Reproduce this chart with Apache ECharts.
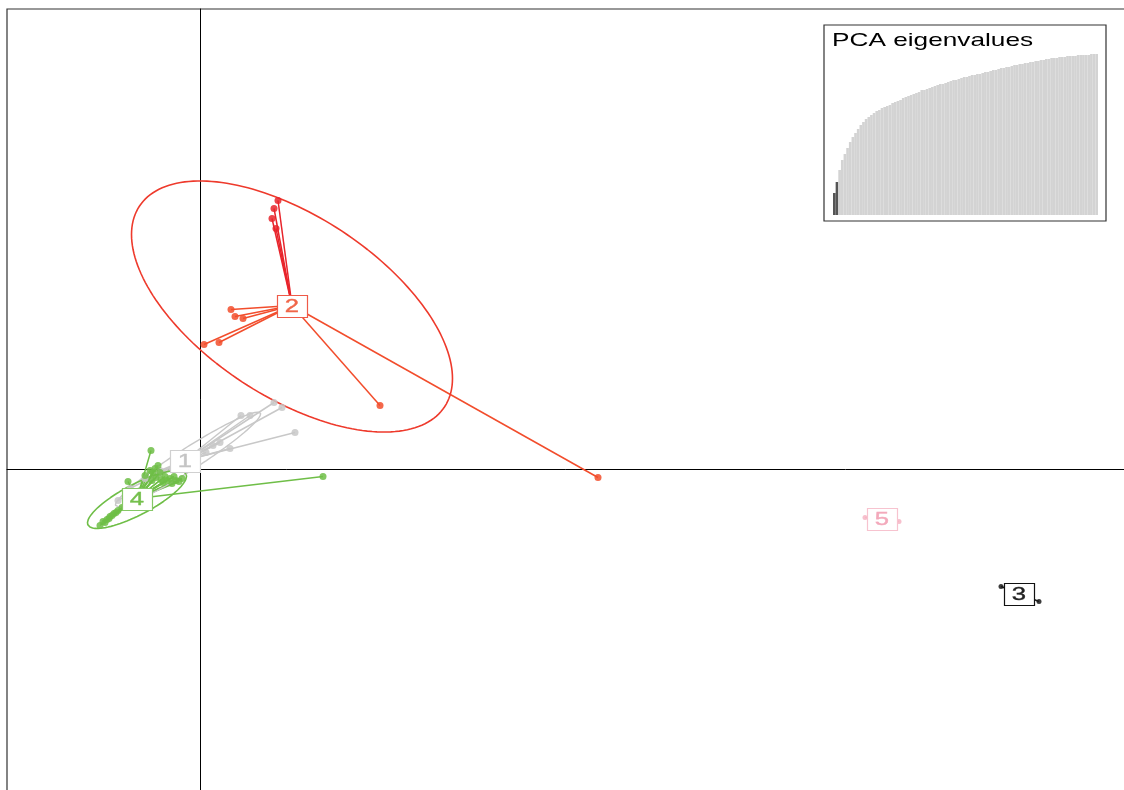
<!DOCTYPE html>
<html>
<head>
<meta charset="utf-8">
<script src="https://cdn.jsdelivr.net/npm/echarts@6/dist/echarts.min.js"></script>
<style>
html,body{margin:0;padding:0;background:#fff;}
#main{width:1124px;height:790px;}
</style>
</head>
<body>
<div id="main"></div>
<script>
// ---------- DATA (PCA / DAPC scatter, axis units) ----------
const grp1Centroid = [-0.15, 0.09];
const grp1Points = [[0.74,0.67],[0.82,0.62],[0.41,0.54],[0.50,0.54],[0.95,0.37],[0.13,0.24],[0.20,0.27],[0.30,0.21],[0.06,0.17],[-0.40,-0.01],[-0.55,-0.09],[-0.70,-0.19],[-0.82,-0.31]];
const grp1Ellipse = [-0.12, 0.10, 0.86, 0.11, 32.7]; // cx, cy, semi-major, semi-minor, angle (deg)

const grp2Centroid = [0.92, 1.64];
const grp2PointsA = [[0.78,2.69],[0.74,2.61],[0.72,2.51],[0.76,2.41]];
const grp2PointsB = [[0.31,1.60],[0.35,1.53],[0.43,1.51],[0.04,1.25],[0.19,1.27],[1.80,0.64],[3.98,-0.08]];
const grp2Ellipse = [0.92, 1.63, 1.826, 0.904, -33.3];

const grp3Centroid = [8.19, -1.24];
const grp3Points = [[8.01,-1.17],[8.39,-1.32]];

const grp4Centroid = [-0.63, -0.29];
const grp4Points = [[-0.49,0.19],[-0.72,-0.12],[1.23,-0.07],[-1.00,-0.56],[-0.97,-0.52],[-0.95,-0.53],[-0.93,-0.50],[-0.91,-0.49],[-0.90,-0.47],[-0.88,-0.46],[-0.86,-0.44],[-0.84,-0.43],[-0.82,-0.41],[-0.78,-0.38],[-0.50,-0.01],[-0.45,0.01],[-0.40,-0.03],[-0.35,-0.07],[-0.30,-0.09],[-0.24,-0.11],[-0.18,-0.09],[-0.42,0.04],[-0.55,-0.06],[-0.28,-0.14],[-0.37,-0.13],[-0.48,-0.11],[-0.33,-0.11],[-0.26,-0.07],[-0.21,-0.12],[-0.44,-0.08],[-0.39,-0.10],[-0.47,-0.03]];
const grp4Ellipse = [-0.63, -0.30, 0.553, 0.153, 27.6];

const grp5Centroid = [6.82, -0.49];
const grp5Points = [[6.65,-0.48],[6.99,-0.52]];

const groupLabels = ['1','2','3','4','5'];

// PCA eigenvalues inset (bar heights, arbitrary units); first two retained axes
const eigenValues = [22,33,45,55,61,67,73,78,82,86,
  90,93,96,98,100,102,104,105,107,108,
  109,110,112,113,114,115,117,118,119,120,
  121,122,123,125,125,126,127,128,129,130,
  131,131,132,133,134,135,135,136,137,138,
  138,139,140,140,141,141,142,143,143,144,
  145,145,146,147,147,148,148,149,150,150,
  151,151,152,152,153,153,154,154,155,155,
  156,156,157,157,157,158,158,158,159,159,
  159,159,160,160,160,160,160,161,161,161];
const eigenRetained = 2;

// ---------- HELPERS ----------
function ellipsePath(e){
  const [cx,cy,a,b,deg] = e, th = deg*Math.PI/180, out=[];
  for(let i=0;i<=180;i++){
    const t = i/180*2*Math.PI;
    const u = a*Math.cos(t), v = b*Math.sin(t);
    out.push([cx + u*Math.cos(th) - v*Math.sin(th), cy + u*Math.sin(th) + v*Math.cos(th)]);
  }
  return out;
}
function segs(c, pts){ return pts.map(p => ({coords:[c, p]})); }

const FONT = '"Liberation Sans", Arial, sans-serif';
const C1 = '#c8c8c8', C2a = '#e8242b', C2b = '#f24d2c', C2e = '#ee3a2c', C3 = '#1a1a1a', C4 = '#6fbe47', C5 = '#f6b5c4';

function segSeries(c, pts, color){
  return {type:'lines', coordinateSystem:'cartesian2d', xAxisIndex:0, yAxisIndex:0, polyline:false,
    data: segs(c, pts), lineStyle:{color:color, width:1.5, opacity:1}, silent:true, z:3};
}
function ptSeries(pts, color, size){
  return {type:'scatter', xAxisIndex:0, yAxisIndex:0, data: pts, symbolSize:size||7,
    itemStyle:{color:color, opacity:0.85}, silent:true, z:4};
}
function ellSeries(e, color, w){
  return {type:'line', xAxisIndex:0, yAxisIndex:0, data: ellipsePath(e), showSymbol:false, smooth:false,
    lineStyle:{color:color, width:w||1.5}, silent:true, z:3};
}

const labelStyles = {
  '1': {stroke:'#d0d0d0', fill:'#c4c4c4'},
  '2': {stroke:'#ef5a48', fill:'#f06548'},
  '3': {stroke:'#111111', fill:'#222222'},
  '4': {stroke:'#86c867', fill:'#74bf4c'},
  '5': {stroke:'#f7c3cf', fill:'#f3a9bb'}
};
const centroids = [grp1Centroid, grp2Centroid, grp3Centroid, grp4Centroid, grp5Centroid];

const chart = echarts.init(document.getElementById('main'), null, {renderer:'canvas'});
const option = {
  animation:false,
  backgroundColor:'#fff',
  grid:[
    {left:7, top:9, width:1200, height:900, show:true, borderColor:'#333', borderWidth:1.2, backgroundColor:'#fff', outerBoundsMode:'none', containLabel:false},
    {left:824, top:25, width:282, height:196, show:true, borderColor:'#333', borderWidth:1.2, backgroundColor:'#fff', z:5, outerBoundsMode:'none', containLabel:false},
    {left:833, top:54, width:265, height:161, z:6, outerBoundsMode:'none', containLabel:false}
  ],
  xAxis:[
    {type:'value', gridIndex:0, min:-1.93, max:10.07, axisLine:{show:true, onZero:true, lineStyle:{color:'#000', width:1}},
     axisTick:{show:false}, axisLabel:{show:false}, splitLine:{show:false}},
    {type:'value', gridIndex:1, show:false},
    {type:'category', gridIndex:2, data: eigenValues.map((v,i)=>String(i+1)), show:false, boundaryGap:true}
  ],
  yAxis:[
    {type:'value', gridIndex:0, min:-4.395, max:4.605, axisLine:{show:true, onZero:true, lineStyle:{color:'#000', width:1}},
     axisTick:{show:false}, axisLabel:{show:false}, splitLine:{show:false}},
    {type:'value', gridIndex:1, show:false},
    {type:'value', gridIndex:2, min:0, max:161, show:false}
  ],
  graphic:[
    {type:'text', left:832, top:31, z:100, scaleX:1.38,
     style:{text:'PCA eigenvalues', font:'19px ' + FONT, fill:'#000'}}
  ],
  series:[
    ellSeries(grp1Ellipse, C1, 1.4),
    segSeries(grp1Centroid, grp1Points, C1),
    ptSeries(grp1Points, C1),
    ellSeries(grp2Ellipse, C2e, 1.6),
    segSeries(grp2Centroid, grp2PointsB, C2b),
    segSeries(grp2Centroid, grp2PointsA, C2a),
    ptSeries(grp2PointsB, C2b),
    ptSeries(grp2PointsA, C2a),
    segSeries(grp3Centroid, grp3Points, C3),
    ptSeries(grp3Points, C3, 5),
    ellSeries(grp4Ellipse, C4, 1.6),
    segSeries(grp4Centroid, grp4Points, C4),
    ptSeries(grp4Points, C4),
    segSeries(grp5Centroid, grp5Points, C5),
    ptSeries(grp5Points, C5, 5),
    {type:'custom', xAxisIndex:0, yAxisIndex:0, z:10, silent:true,
     data: centroids.map((c,i)=>[c[0], c[1], i]),
     renderItem:function(params, api){
       const p = api.coord([api.value(0), api.value(1)]);
       const lab = groupLabels[api.value(2)];
       const st = labelStyles[lab];
       return {type:'group', children:[
         {type:'rect', shape:{x:Math.round(p[0]-15)+0.5, y:Math.round(p[1]-11)+0.5, width:30, height:22},
          style:{fill:'#fff', stroke:st.stroke, lineWidth:1.2}},
         {type:'text', x:p[0], y:p[1]+1, scaleX:1.35,
          style:{text:lab, fill:st.fill, font:'19px ' + FONT, align:'center', verticalAlign:'middle',
                 stroke:st.fill, lineWidth:0.4}}
       ]};
     }},
    {type:'bar', xAxisIndex:2, yAxisIndex:2, barCategoryGap:'0%', z:7, silent:true,
     data: eigenValues.map((v,i)=>({value:v, itemStyle:{color: i < eigenRetained ? '#555555' : '#d3d3d3'}}))}
  ]
};
chart.setOption(option);
</script>
</body>
</html>
